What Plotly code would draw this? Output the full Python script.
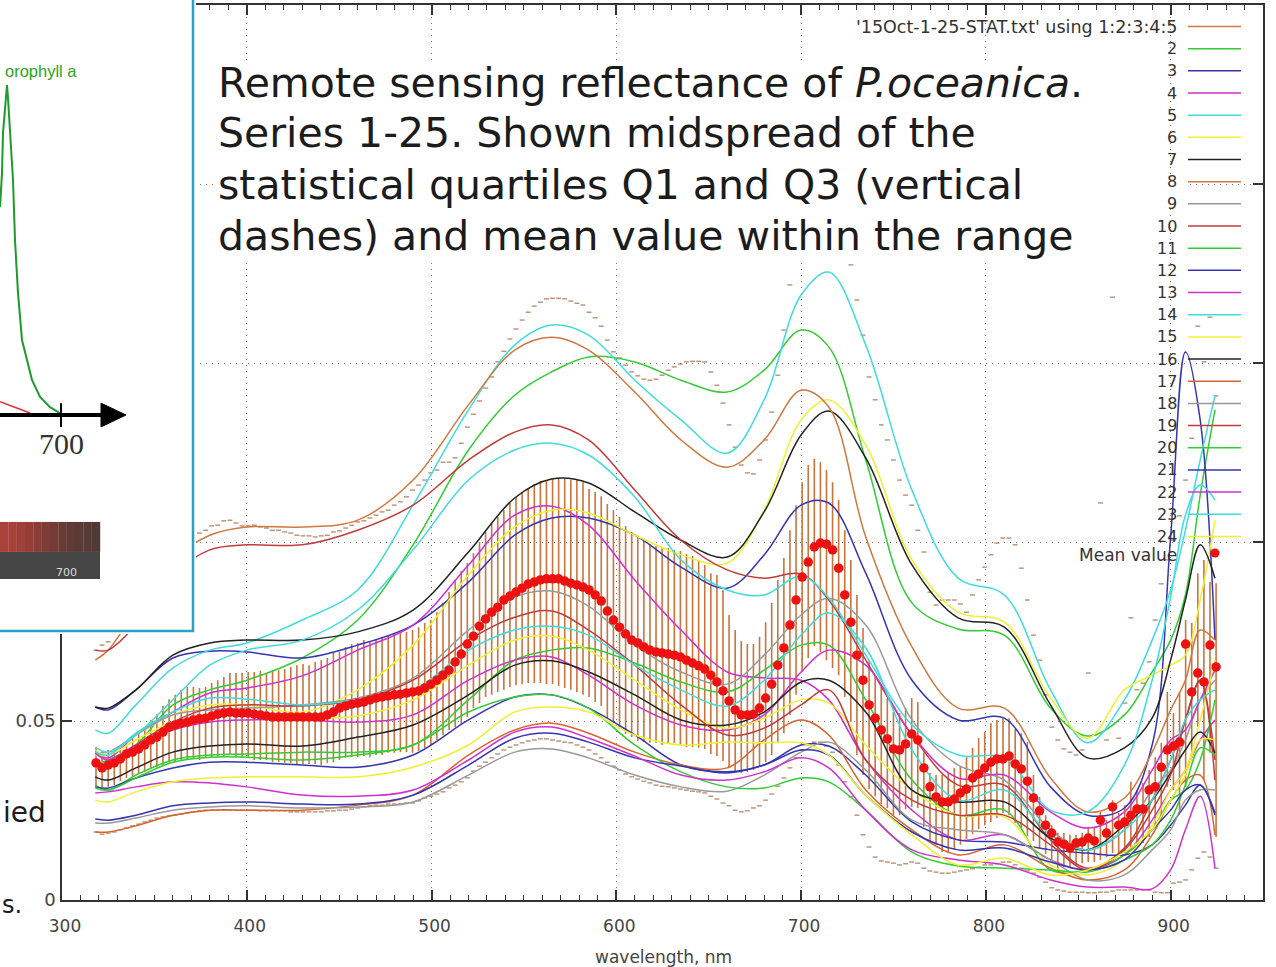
import numpy as np
import plotly.graph_objects as go

# ----------------------------------------------------------------------------------------------------------------------
#  DATA  (reflectance values are in units of 1e-3)
# ----------------------------------------------------------------------------------------------------------------------
curve_wl = [318, 325, 340, 360, 380, 400, 430, 460, 490, 520, 545, 565, 585, 610, 635, 660,
            680, 700, 715, 735, 760, 785, 810, 835, 855, 875, 890, 900, 908, 916, 924]

s02 = [37.7, 39.1, 43.3, 54.5, 58.7, 61.4, 67.6, 78.2, 99.2, 125.7, 141.0, 147.5, 151.7, 150.3, 145.2, 141.9,
       148.0, 159.2, 154.5, 122.9, 83.0, 75.7, 74.0, 53.6, 45.8, 51.7, 63.7, 72.6, 85.2, 113.1, 136.9]
s03 = [53.9, 53.1, 58.7, 67.6, 69.5, 69.3, 67.6, 71.2, 76.8, 88.8, 101.9, 106.7, 106.7, 101.9, 93.0, 87.1,
       96.4, 110.3, 110.9, 91.3, 61.4, 50.3, 50.8, 31.6, 23.7, 25.7, 43.3, 101.4, 153.1, 134.1, 72.6]
s04 = [41.3, 39.7, 46.1, 52.5, 57.8, 59.2, 62.6, 69.8, 76.8, 93.6, 107.5, 110.0, 104.7, 89.4, 75.4, 63.7,
       62.0, 61.4, 55.9, 39.1, 25.1, 16.8, 18.2, 11.2, 8.4, 12.6, 22.3, 30.7, 36.3, 44.7, 50.3]
s05 = [47.5, 46.6, 54.5, 64.8, 69.8, 71.8, 78.2, 86.6, 110.3, 136.9, 155.0, 160.6, 157.8, 145.2, 134.1, 124.8,
       139.7, 169.0, 175.4, 155.0, 114.5, 89.9, 85.2, 58.7, 43.9, 55.9, 72.6, 86.6, 103.3, 122.9, 140.8]
s06 = [40.5, 40.5, 46.1, 51.7, 54.5, 54.5, 52.5, 58.7, 71.2, 90.8, 104.2, 108.9, 108.1, 101.9, 96.4, 94.1,
       108.9, 134.1, 139.7, 127.1, 95.0, 80.4, 77.6, 56.4, 45.2, 58.7, 62.8, 65.6, 68.4, 83.8, 106.1]
s07 = [53.9, 53.6, 58.7, 68.4, 71.8, 72.6, 72.6, 74.9, 81.0, 97.2, 112.3, 117.6, 116.5, 108.4, 100.5, 95.8,
       108.4, 129.9, 136.6, 123.5, 93.6, 78.8, 76.2, 54.5, 39.7, 42.5, 50.8, 67.0, 83.8, 99.2, 89.9]
s08 = [67.0, 69.8, 81.0, 95.0, 101.9, 104.2, 104.2, 106.1, 117.3, 138.3, 153.6, 157.2, 153.6, 141.9, 128.5, 120.9,
       128.5, 142.4, 137.7, 101.4, 70.7, 53.6, 53.6, 34.1, 24.6, 28.5, 41.3, 53.1, 61.4, 75.4, 72.6]
s09 = [41.3, 41.3, 46.1, 51.7, 53.1, 53.6, 54.5, 56.4, 62.0, 75.4, 84.6, 86.3, 82.1, 71.2, 63.7, 60.3,
       68.4, 79.6, 84.3, 76.8, 50.3, 37.7, 33.5, 19.6, 14.0, 19.6, 30.7, 36.3, 44.7, 55.9, 61.4]
s10 = [69.8, 69.8, 76.8, 90.8, 97.8, 99.2, 99.2, 103.3, 110.3, 122.9, 130.7, 132.7, 128.5, 114.5, 100.5, 92.2,
       89.9, 91.1, 83.8, 67.0, 46.1, 32.1, 32.1, 16.8, 8.9, 14.5, 27.9, 39.1, 50.3, 61.4, 39.1]
s11 = [32.1, 30.7, 34.9, 39.1, 40.5, 40.8, 41.3, 41.3, 43.3, 55.9, 67.0, 69.8, 70.4, 66.2, 60.9, 58.1,
       64.2, 71.2, 71.2, 55.9, 33.5, 23.7, 25.1, 8.4, 8.4, 12.6, 19.6, 27.9, 30.7, 39.1, 55.9]
s12 = [31.6, 31.3, 34.1, 36.9, 38.5, 38.5, 37.7, 37.1, 40.5, 50.3, 56.7, 57.3, 53.6, 46.1, 37.7, 35.8,
       37.7, 43.3, 43.0, 34.9, 21.8, 16.8, 16.2, 14.0, 13.1, 12.6, 15.4, 20.9, 26.5, 32.1, 24.3]
s13 = [41.1, 39.1, 43.3, 47.5, 49.7, 50.3, 50.3, 49.7, 51.7, 61.4, 67.0, 67.9, 62.8, 54.5, 48.9, 47.5,
       51.7, 63.7, 69.8, 65.6, 46.1, 34.1, 34.9, 24.6, 20.1, 24.6, 36.3, 44.7, 47.5, 55.9, 64.2]
s14 = [42.7, 41.3, 46.1, 55.9, 65.6, 69.8, 72.6, 81.0, 97.8, 117.3, 125.7, 127.6, 124.3, 112.6, 95.0, 86.6,
       85.2, 90.5, 84.3, 68.4, 48.9, 40.5, 39.7, 25.1, 24.6, 37.7, 61.4, 84.6, 107.5, 115.9, 111.7]
s15 = [41.9, 40.5, 44.7, 49.7, 51.4, 51.4, 50.8, 51.4, 55.9, 65.6, 72.6, 73.7, 69.8, 61.4, 53.1, 48.0,
       50.8, 55.9, 55.0, 43.3, 30.7, 23.7, 23.2, 9.8, 7.0, 11.2, 20.9, 30.7, 36.3, 50.3, 67.0]
s16 = [34.4, 33.5, 36.9, 41.3, 43.0, 43.6, 43.0, 45.5, 48.9, 57.3, 65.6, 66.8, 63.7, 57.3, 50.3, 48.9,
       52.5, 60.9, 61.4, 52.5, 30.7, 27.4, 27.4, 17.3, 14.0, 20.9, 27.9, 35.5, 41.9, 46.9, 41.1]
s17 = [19.0, 19.0, 20.7, 23.7, 25.1, 25.1, 25.1, 26.5, 29.3, 40.5, 47.5, 49.4, 46.6, 41.3, 37.7, 36.9,
       44.7, 50.3, 46.1, 30.7, 19.6, 12.6, 15.4, 8.9, 5.6, 8.4, 18.2, 27.9, 33.5, 34.9, 18.2]
s18 = [21.5, 21.5, 22.9, 25.1, 26.0, 26.3, 25.7, 26.0, 27.4, 34.9, 41.3, 42.2, 39.7, 34.9, 31.6, 30.4,
       34.9, 41.3, 44.1, 36.3, 22.3, 19.6, 18.2, 11.2, 5.6, 7.0, 14.0, 19.6, 27.9, 30.7, 30.7]
s19 = [38.5, 37.7, 43.3, 49.7, 53.6, 54.5, 54.2, 55.9, 61.4, 72.6, 79.0, 80.7, 75.4, 65.6, 54.5, 46.1,
       48.0, 54.5, 58.7, 39.1, 27.9, 23.7, 23.7, 15.4, 8.4, 14.0, 25.1, 34.9, 50.3, 61.4, 33.5]
s20 = [31.3, 30.7, 34.1, 38.5, 39.9, 39.9, 39.1, 40.5, 43.3, 52.5, 56.7, 57.3, 53.6, 43.3, 35.8, 31.6,
       31.3, 34.1, 33.0, 25.1, 13.4, 9.5, 8.9, 8.4, 7.8, 11.2, 15.4, 22.3, 32.1, 42.5, 40.5]
s21 = [22.6, 22.3, 23.7, 26.3, 27.1, 27.4, 26.8, 26.8, 29.3, 37.7, 45.2, 46.6, 44.1, 39.7, 37.4, 35.5,
       37.7, 41.9, 40.5, 29.3, 19.0, 14.0, 14.5, 10.6, 8.4, 11.2, 19.6, 25.1, 30.7, 32.1, 23.7]
s22 = [29.9, 30.2, 31.6, 33.0, 32.7, 31.6, 29.3, 29.0, 30.7, 39.1, 46.9, 48.3, 45.2, 40.2, 34.9, 33.5,
       35.8, 39.7, 36.9, 25.1, 14.0, 11.2, 9.8, 5.6, 3.6, 3.6, 3.1, 8.4, 19.6, 29.0, 8.9]
s23 = [41.3, 40.5, 46.6, 52.5, 56.4, 56.1, 54.5, 55.9, 58.7, 69.8, 75.4, 76.5, 74.0, 65.6, 58.7, 54.2,
       61.4, 74.0, 80.2, 70.4, 41.9, 27.9, 30.7, 18.2, 14.0, 19.6, 27.9, 39.1, 50.3, 55.9, 58.7]
s24 = [27.9, 27.4, 30.2, 33.0, 34.1, 34.4, 34.4, 34.4, 37.1, 43.3, 52.5, 53.9, 52.5, 46.1, 43.3, 44.1,
       43.9, 43.9, 40.5, 29.3, 18.2, 9.8, 11.7, 7.0, 8.4, 13.4, 19.6, 27.9, 34.9, 44.7, 44.7]

stat_wl = np.linspace(318.4, 924.6, 185)

mean_value = [38.3, 36.9, 37.7, 38.3, 39.4, 40.8, 41.3, 42.2, 43.3, 44.7,
              45.5, 46.9, 48.3, 48.9, 49.4, 49.7, 50.3, 50.6, 50.8, 51.4,
              51.9, 52.2, 52.5, 52.2, 52.2, 52.2, 51.9, 51.7, 51.4, 51.1,
              51.1, 51.1, 51.1, 51.1, 51.1, 51.1, 51.1, 51.1, 51.7, 52.5,
              53.6, 54.2, 54.7, 55.0, 55.3, 55.9, 56.4, 56.7, 57.0, 57.3,
              57.5, 57.8, 58.1, 58.4, 59.2, 60.3, 61.4, 62.8, 64.2, 66.5,
              68.7, 71.5, 73.7, 76.5, 78.5, 80.4, 81.8, 83.8, 84.9, 86.0,
              87.1, 88.3, 88.8, 89.4, 89.7, 89.7, 89.7, 89.1, 88.5, 88.0,
              87.4, 86.6, 85.2, 83.5, 80.7, 78.2, 76.2, 74.3, 72.6, 71.8,
              70.7, 69.8, 69.3, 69.0, 68.7, 68.4, 67.9, 67.0, 66.2, 65.4,
              64.5, 62.8, 60.9, 58.4, 55.6, 53.1, 51.7, 51.7, 51.9, 53.6,
              56.4, 60.3, 65.6, 70.4, 76.8, 83.8, 90.2, 94.4, 98.6, 99.7,
              99.4, 97.8, 92.7, 85.2, 77.6, 68.4, 61.4, 54.5, 50.8, 47.5,
              45.0, 42.2, 41.9, 43.6, 46.4, 44.7, 36.9, 31.6, 28.8, 27.4,
              27.4, 28.2, 29.9, 31.0, 34.1, 35.2, 36.9, 38.5, 39.4, 39.4,
              40.2, 38.0, 36.6, 33.2, 28.5, 24.9, 20.9, 18.7, 16.2, 15.6,
              14.5, 15.9, 16.2, 17.3, 16.5, 22.3, 18.7, 26.0, 20.9, 21.8,
              23.7, 25.4, 25.4, 30.7, 31.6, 37.1, 41.9, 43.0, 44.1, 71.5,
              58.1, 63.4, 60.9, 71.2, 65.1]

q3_value = [42.5, 41.3, 41.9, 41.9, 42.5, 43.3, 45.2, 46.6, 47.8, 50.3,
            51.9, 54.2, 56.1, 57.3, 58.7, 59.5, 59.5, 59.2, 59.5, 60.6,
            61.4, 62.3, 63.4, 63.4, 63.4, 63.7, 63.7, 64.0, 63.4, 64.2,
            64.2, 64.5, 65.1, 65.6, 65.9, 65.6, 66.5, 67.0, 67.6, 69.0,
            69.3, 70.7, 71.5, 71.8, 72.6, 72.1, 72.9, 73.5, 74.0, 74.6,
            74.9, 74.9, 75.4, 76.2, 77.4, 78.2, 80.4, 83.0, 86.0, 89.4,
            91.9, 94.1, 96.9, 100.0, 102.8, 105.3, 107.0, 108.9, 110.9, 112.6,
            114.0, 115.1, 116.2, 117.0, 117.3, 117.6, 117.9, 117.6, 117.3, 117.3,
            116.7, 114.8, 114.0, 112.8, 110.6, 108.9, 107.0, 104.5, 102.8, 101.7,
            100.3, 99.4, 98.9, 98.3, 98.3, 97.8, 97.5, 96.6, 96.1, 95.0,
            93.6, 91.3, 90.8, 86.6, 79.6, 75.4, 72.3, 71.5, 71.5, 73.5,
            77.6, 83.0, 89.4, 95.5, 103.3, 110.3, 116.7, 121.5, 123.2, 122.3,
            120.1, 116.7, 111.7, 103.3, 95.0, 85.2, 76.0, 67.0, 62.8, 59.5,
            56.4, 52.5, 52.2, 53.6, 56.4, 55.3, 41.3, 35.5, 34.9, 34.9,
            35.5, 36.9, 37.4, 39.9, 42.5, 45.2, 46.9, 49.4, 50.3, 50.8,
            50.8, 47.8, 46.6, 44.1, 34.9, 28.8, 23.7, 20.9, 18.7, 18.7,
            18.2, 18.2, 18.7, 20.4, 20.1, 24.6, 22.3, 27.9, 24.3, 26.5,
            33.0, 30.7, 32.7, 36.3, 39.9, 43.9, 58.1, 52.2, 58.1, 78.2,
            77.4, 91.3, 95.0, 88.8, 88.5]

q1_value = [31.6, 31.3, 31.6, 32.1, 33.2, 34.1, 34.4, 35.2, 35.8, 36.6,
            37.1, 37.7, 38.5, 38.5, 38.8, 39.4, 39.7, 39.1, 39.7, 39.9,
            39.9, 39.9, 40.5, 39.9, 39.7, 39.7, 39.1, 39.1, 39.1, 38.5,
            38.5, 38.3, 38.3, 38.0, 38.0, 38.0, 38.0, 37.7, 38.3, 38.5,
            39.1, 39.7, 39.9, 39.9, 40.2, 39.9, 40.5, 40.5, 41.1, 41.1,
            41.3, 41.3, 41.1, 41.6, 42.5, 43.3, 44.7, 46.1, 47.5, 48.3,
            49.2, 51.1, 53.6, 55.0, 56.7, 57.3, 58.1, 58.7, 59.5, 60.0,
            60.3, 60.6, 60.6, 60.6, 60.3, 60.3, 59.8, 59.2, 58.7, 58.1,
            57.3, 56.7, 55.3, 54.2, 50.8, 49.4, 47.8, 46.4, 45.5, 44.4,
            44.1, 43.9, 43.9, 43.3, 43.9, 43.9, 43.3, 42.7, 42.7, 42.5,
            42.2, 40.8, 40.2, 38.8, 37.1, 36.0, 35.5, 35.8, 36.3, 37.4,
            38.5, 40.5, 43.9, 46.6, 51.7, 57.3, 63.7, 67.6, 70.9, 69.3,
            67.0, 64.8, 62.8, 56.7, 49.7, 40.5, 34.9, 31.0, 29.0, 26.8,
            25.7, 23.7, 23.7, 25.4, 26.0, 25.7, 20.4, 16.5, 15.4, 13.4,
            13.1, 14.0, 15.4, 17.0, 18.4, 19.8, 20.9, 21.8, 22.9, 24.3,
            23.7, 21.5, 20.1, 17.9, 16.5, 14.5, 12.8, 11.2, 8.4, 9.2,
            8.9, 9.8, 10.3, 10.6, 10.6, 11.2, 12.0, 13.1, 13.1, 13.1,
            14.0, 15.9, 15.9, 17.6, 20.1, 22.3, 31.6, 30.7, 25.1, 31.6,
            39.7, 48.3, 33.5, 41.1, 17.6]

max_value = [69.8, 71.2, 72.1, 75.4, 79.6, 83.8, 86.6, 89.9, 92.2, 95.5,
             97.2, 99.2, 100.5, 101.1, 101.9, 102.8, 101.4, 102.5, 103.3, 104.5,
             104.7, 105.9, 106.1, 105.3, 104.5, 104.5, 104.7, 104.2, 103.9, 103.3,
             103.3, 102.8, 102.5, 101.9, 101.7, 101.7, 101.4, 101.7, 101.9, 102.8,
             103.1, 103.9, 104.7, 105.6, 105.9, 106.7, 107.5, 108.4, 108.9, 110.3,
             111.2, 112.6, 114.5, 115.9, 117.3, 119.3, 120.1, 122.3, 122.3, 123.5,
             127.6, 132.1, 135.7, 139.4, 143.0, 146.1, 150.3, 153.3, 156.7, 159.5,
             162.0, 164.2, 165.9, 167.0, 167.9, 168.1, 168.1, 167.9, 167.3, 166.7,
             166.2, 164.2, 162.6, 160.3, 156.4, 153.1, 151.4, 149.4, 147.5, 146.4,
             145.5, 145.2, 145.5, 146.6, 148.0, 148.9, 149.7, 150.3, 150.5, 150.5,
             150.3, 147.5, 143.8, 138.8, 132.7, 126.5, 121.5, 119.3, 119.0, 122.9,
             128.5, 136.3, 146.6, 159.2, 171.8, 182.9, 191.3, 195.5, 196.9, 196.9,
             195.5, 191.3, 185.7, 190.5, 177.4, 167.6, 157.8, 146.1, 139.7, 132.7,
             128.5, 122.9, 117.3, 113.1, 110.3, 103.3, 97.2, 86.0, 82.4, 83.8,
             83.8, 83.8, 82.7, 80.4, 85.2, 89.4, 93.0, 96.4, 99.7, 101.1,
             101.1, 99.2, 92.7, 83.8, 74.0, 67.0, 57.3, 48.3, 44.7, 42.2,
             41.3, 40.5, 41.9, 63.4, 46.1, 110.9, 44.7, 168.4, 45.2, 55.0,
             78.8, 58.7, 60.6, 66.5, 78.2, 88.3, 95.0, 100.5, 107.3, 117.3,
             129.0, 160.3, 150.3, 162.8, 140.8]

min_value = [19.0, 18.4, 18.7, 19.0, 19.6, 20.1, 20.7, 21.2, 21.8, 22.3,
             22.9, 23.2, 23.5, 23.7, 24.0, 24.3, 24.6, 24.9, 25.1, 25.1,
             25.1, 25.1, 25.1, 25.1, 25.1, 25.1, 25.1, 24.9, 24.9, 24.9,
             24.9, 24.9, 24.6, 24.6, 24.6, 24.6, 24.6, 24.6, 24.9, 24.9,
             25.1, 25.1, 25.4, 25.7, 26.0, 26.3, 26.5, 26.5, 26.8, 26.8,
             26.8, 27.1, 27.1, 27.7, 28.5, 29.0, 29.6, 30.2, 31.3, 32.1,
             33.0, 34.1, 36.0, 37.4, 38.5, 39.7, 40.8, 41.9, 42.7, 43.3,
             43.9, 44.4, 44.7, 45.0, 45.0, 44.7, 44.4, 44.1, 43.9, 43.3,
             42.7, 41.9, 40.8, 39.7, 38.5, 37.4, 36.3, 35.2, 34.4, 33.8,
             33.2, 32.7, 32.1, 31.8, 31.6, 31.3, 31.0, 30.7, 30.4, 30.2,
             29.9, 29.0, 28.2, 27.1, 26.3, 25.1, 24.6, 24.9, 25.7, 26.3,
             27.9, 29.6, 31.8, 34.1, 36.9, 39.7, 41.9, 43.3, 44.1, 44.1,
             43.0, 41.3, 37.7, 33.0, 28.8, 23.7, 18.2, 14.8, 12.0, 10.9,
             10.6, 10.3, 9.8, 10.1, 10.6, 10.3, 8.9, 8.1, 7.8, 7.5,
             7.5, 7.8, 8.1, 8.4, 8.7, 9.2, 9.8, 9.8, 10.1, 10.6,
             10.6, 9.8, 8.9, 8.1, 7.5, 6.4, 5.0, 3.4, 2.8, 2.5,
             2.2, 2.2, 2.2, 2.0, 2.0, 2.2, 2.2, 2.5, 2.8, 2.8,
             2.8, 2.8, 2.8, 2.8, 2.2, 2.0, 2.0, 4.7, 5.0, 5.6,
             8.4, 11.7, 13.4, 12.0, 8.9]

# inset: relative absorption
inset_green_wl = [669.5, 670.5, 671, 672, 673, 673.5, 674.5, 675, 676, 677, 678.5, 680.5, 685.5, 689.5, 694.5, 699.5]
inset_green = [0.63, 0.733, 0.855, 0.933, 1.0, 0.96, 0.855, 0.824, 0.712, 0.53, 0.37, 0.227, 0.106, 0.055, 0.024, 0.006]
inset_red_wl = [669.5, 684.5]
inset_red = [0.04, 0.006]

legend_labels = ["'15Oct-1-25-STAT.txt' using 1:2:3:4:5"] + [str(n) for n in range(2, 25)]
mean_label = "Mean value"
text_lines = ["Remote sensing reflectance of <i>P.oceanica</i>.",
              "Series 1-25. Shown midspread of the",
              "statistical quartiles Q1 and Q3 (vertical",
              "dashes) and mean value within the range"]

# ----------------------------------------------------------------------------------------------------------------------
#  STYLE
# ----------------------------------------------------------------------------------------------------------------------
GREEN, BLUE, MAGENTA, CYAN, YELLOW = "#33cc33", "#3535b0", "#d030d0", "#40dcdc", "#f0f030"
BLACK, ORANGE, GRAY, RED, ORANGE2 = "#222222", "#d07840", "#999999", "#c03c3c", "#d8642c"
BAR_COLOR = "#c8743c"
FONT = "DejaVu Sans"
W, H = 1276, 967

series = [s02, s03, s04, s05, s06, s07, s08, s09, s10, s11, s12, s13,
          s14, s15, s16, s17, s18, s19, s20, s21, s22, s23, s24]
series_colors = [GREEN, BLUE, MAGENTA, CYAN, YELLOW, BLACK, ORANGE, GRAY, RED, GREEN, BLUE, MAGENTA,
                 CYAN, YELLOW, BLACK, ORANGE2, GRAY, RED, GREEN, BLUE, MAGENTA, CYAN, YELLOW]
legend_colors = [ORANGE] + series_colors
spectrum_colors = ["#ab423a", "#a6413a", "#9f4039", "#953e38", "#8a3d37", "#7f3c36", "#743b36", "#6a3a35",
                   "#603a36", "#5a3a36", "#553a36", "#503a36"]


def px(x):
    return x / W


def py(y):
    return 1 - y / H


def scaled(values):
    return np.array(values) / 1000.0


# ----------------------------------------------------------------------------------------------------------------------
#  PLOT
# ----------------------------------------------------------------------------------------------------------------------
fig = go.Figure()

# quartile bars
bar_x, bar_y = [], []
for wl, q1, q3 in zip(stat_wl, scaled(q1_value), scaled(q3_value)):
    bar_x += [wl, wl, None]
    bar_y += [q1, q3, None]
fig.add_trace(go.Scatter(x=bar_x, y=bar_y, mode="lines", line=dict(color=BAR_COLOR, width=1.6), connectgaps=False))

# min and max whisker dashes
for values in (max_value, min_value):
    fig.add_trace(go.Scatter(x=stat_wl, y=scaled(values), mode="markers",
                             marker=dict(symbol="line-ew", size=3.5, line=dict(color="#a0623a", width=1))))

for values, color in zip(series, series_colors):
    fig.add_trace(go.Scatter(x=curve_wl, y=scaled(values), mode="lines",
                             line=dict(color=color, width=1.5, shape="spline", smoothing=1.0)))

fig.add_trace(go.Scatter(x=stat_wl, y=scaled(mean_value), mode="markers", marker=dict(color="#ee1111", size=9.5)))

# inset picture, on its own axes above the main plot
inset = dict(xaxis="x2", yaxis="y2", showlegend=False)
fig.add_trace(go.Scatter(x=[660, 766, 766, 660, 660], y=[1.4, 1.4, -0.6545, -0.6545, 1.4], mode="lines",
                         fill="toself", fillcolor="white", line=dict(color="#2ba0c6", width=2.5), **inset))
fig.add_trace(go.Scatter(x=inset_red_wl, y=inset_red, mode="lines", line=dict(color="#e0303a", width=1.5), **inset))
fig.add_trace(go.Scatter(x=inset_green_wl, y=inset_green, mode="lines", line=dict(color="#1f9a2c", width=2), **inset))
fig.add_trace(go.Scatter(x=[669.5, 720], y=[0, 0], mode="lines", line=dict(color="black", width=4), **inset))
fig.add_trace(go.Scatter(x=[700, 700], y=[-0.036, 0.036], mode="lines", line=dict(color="black", width=2), **inset))
fig.add_trace(go.Scatter(x=[720, 732.5, 720, 720], y=[0.036, 0, -0.036, 0.036], mode="lines", fill="toself",
                         fillcolor="black", line=dict(color="black", width=1), **inset))

shapes = []
# the key box and the text box hide the grid behind them
shapes.append(dict(type="rect", xref="x", yref="y", layer="below", x0=688.5, x1=945, y0=0.0936, y1=0.2472,
                   fillcolor="white", line=dict(width=0)))
shapes.append(dict(type="rect", xref="paper", yref="paper", layer="above", x0=px(217), x1=px(1100), y0=py(262), y1=py(60),
                   fillcolor="white", line=dict(width=0)))
shapes.append(dict(type="rect", xref="paper", yref="paper", layer="above", x0=px(1100), x1=px(1186), y0=py(192), y1=py(174),
                   fillcolor="white", line=dict(width=0)))

# spectrum strip of the inset
step = (719.5 - 669.5) / len(spectrum_colors)
for n, color in enumerate(spectrum_colors):
    shapes.append(dict(type="rect", xref="x2", yref="y2", layer="above", x0=669.5 + n * step, x1=669.5 + (n + 1) * step + 0.1,
                       y0=-0.415, y1=-0.324, fillcolor=color, line=dict(width=0)))
shapes.append(dict(type="rect", xref="x2", yref="y2", layer="above", x0=669.5, x1=719.5, y0=-0.497, y1=-0.415,
                   fillcolor="#454545", line=dict(width=0)))

annotations = []


def note(x, y, text, size, anchor="left", color="#222222", family=FONT):
    annotations.append(dict(xref="paper", yref="paper", x=px(x), y=py(y), text=text, showarrow=False, xanchor=anchor,
                            yanchor="middle", font=dict(family=family, size=size, color=color)))


for n, (label, color) in enumerate(zip(legend_labels, legend_colors)):
    key_y = 26.5 + n * 22.17
    note(1179, key_y, label, 17.5 if n == 0 else 16, "right", "#333333")
    shapes.append(dict(type="line", xref="paper", yref="paper", layer="above", x0=px(1188), x1=px(1241), y0=py(key_y), y1=py(key_y),
                       line=dict(color=color, width=1.5)))
note(1179, 555, mean_label, 17, "right", "#333333")
shapes.append(dict(type="circle", xref="paper", yref="paper", layer="above", x0=px(1210.5), x1=px(1219.5), y0=py(557.5), y1=py(548.5),
                   fillcolor="#ee1111", line=dict(width=0)))

for line, y in zip(text_lines, [83, 133, 185, 236]):
    note(216, y, line, 41, "left", "#1c1c1c")
note(48, 812, "ied", 28, "right", "#1c1c1c")
note(0, 905, "s.", 24, "left", "#1c1c1c")
note(79, 71, "orophyll a", 16.5, "right", "#2aa520", "Liberation Sans")
note(61, 444, "700", 30, "center", "#333333", "Liberation Serif")
note(66, 572, "700", 11, "center", "#dddddd", "DejaVu Sans")
note(663, 957, "wavelength, nm", 17, "center", "#444444")

AXIS_LINE = dict(showline=True, linecolor="#333333", linewidth=1.5, mirror="allticks", ticks="inside", ticklen=10,
                 tickcolor="#333333", tickwidth=1.5, showgrid=True, gridcolor="#777777", gridwidth=1, automargin=False,
                 griddash="1px,5px", zeroline=False)

fig.update_layout(
    width=W, height=H, margin=dict(l=0, r=0, t=0, b=0), showlegend=False,
    plot_bgcolor="white", paper_bgcolor="white", shapes=shapes, annotations=annotations,
    xaxis=dict(domain=[62 / W, 1263 / W], range=[300, 950], dtick=100, ticklabelstandoff=10, ticklabelshift=3,
               minor=dict(dtick=10, ticks="inside", ticklen=5, tickcolor="#333333", tickwidth=1, showgrid=False),
               tickfont=dict(family=FONT, size=17, color="#444444"), **AXIS_LINE),
    yaxis=dict(domain=[py(900), py(5)], range=[0, 0.25], tickmode="array", ticklabelstandoff=1,
               tickvals=[0, 0.05, 0.1, 0.15, 0.2, 0.25], ticktext=["0", "0.05", "0.1", "0.15", "0.2", "0.25"],
               tickfont=dict(family=FONT, size=18, color="#444444"), **AXIS_LINE),
    xaxis2=dict(domain=[0, 196 / W], range=[669.5, 767.5], visible=False, anchor="y2"),
    yaxis2=dict(domain=[py(634), 1], range=[-0.6636, 1.2576], visible=False, anchor="x2"),
)

fig.write_html("out.html", config=dict(displayModeBar=False), post_script="document.body.style.margin='0';")
